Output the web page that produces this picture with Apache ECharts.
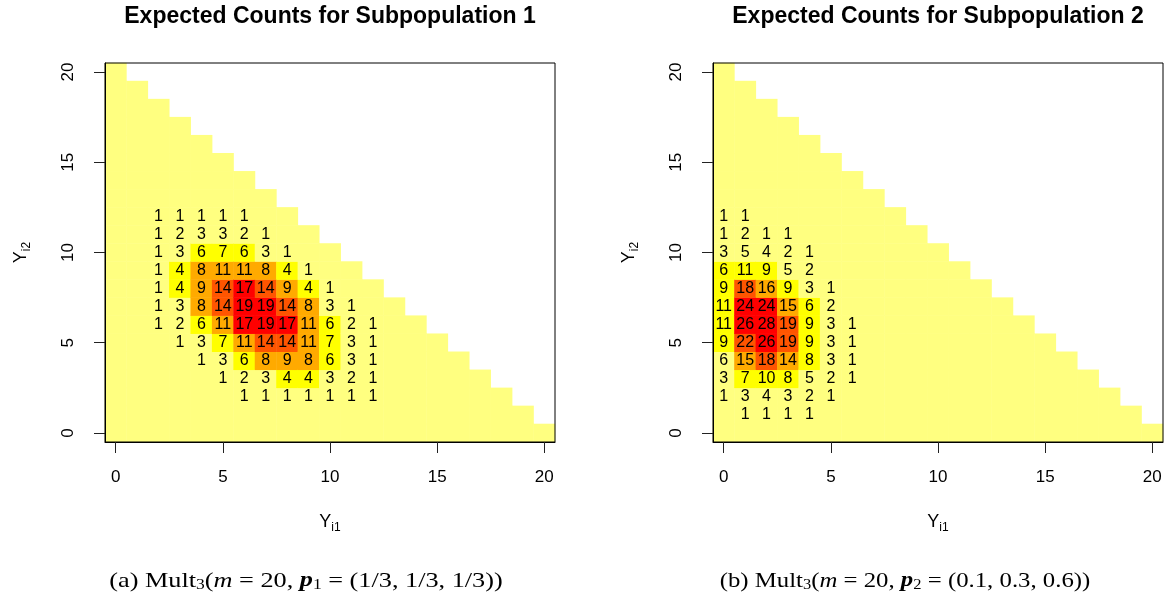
<!DOCTYPE html>
<html>
<head>
<meta charset="utf-8">
<script src="https://cdn.jsdelivr.net/npm/echarts@6/dist/echarts.min.js"></script>
<style>
  html, body { margin: 0; padding: 0; background: #fff; }
  #chart { width: 1170px; height: 602px; }
</style>
</head>
<body>
<div id="chart"></div>
<script>
// categories 0..20 for both axes
const cats = []
for (let i = 0; i <= 20; i++) cats.push(String(i))
const tickLabels = ["0", "5", "10", "15", "20"]

// each row: [Y_i2, first Y_i1, counts...]
const countsA = [
  [12, 2, [1, 1, 1, 1, 1]],
  [11, 2, [1, 2, 3, 3, 2, 1]],
  [10, 2, [1, 3, 6, 7, 6, 3, 1]],
  [9, 2, [1, 4, 8, 11, 11, 8, 4, 1]],
  [8, 2, [1, 4, 9, 14, 17, 14, 9, 4, 1]],
  [7, 2, [1, 3, 8, 14, 19, 19, 14, 8, 3, 1]],
  [6, 2, [1, 2, 6, 11, 17, 19, 17, 11, 6, 2, 1]],
  [5, 3, [1, 3, 7, 11, 14, 14, 11, 7, 3, 1]],
  [4, 4, [1, 3, 6, 8, 9, 8, 6, 3, 1]],
  [3, 5, [1, 2, 3, 4, 4, 3, 2, 1]],
  [2, 6, [1, 1, 1, 1, 1, 1, 1]]
]

const countsB = [
  [12, 0, [1, 1]],
  [11, 0, [1, 2, 1, 1]],
  [10, 0, [3, 5, 4, 2, 1]],
  [9, 0, [6, 11, 9, 5, 2]],
  [8, 0, [9, 18, 16, 9, 3, 1]],
  [7, 0, [11, 24, 24, 15, 6, 2]],
  [6, 0, [11, 26, 28, 19, 9, 3, 1]],
  [5, 0, [9, 22, 26, 19, 9, 3, 1]],
  [4, 0, [5.5, 15, 18, 14, 8, 3, 1]], // first cell shown as 6 but in the lightest band
  [3, 0, [3, 7, 10, 8, 5, 2, 1]],
  [2, 0, [1, 3, 4, 3, 2, 1]],
  [1, 1, [1, 1, 1, 1]]
]

const heat = ["#FFFF80", "#FFFF00", "#FFAA00", "#FF5500", "#FF0000"]
const breaksA = [3.5, 7.5, 11.5, 15.5]
const breaksB = [5.8, 11.5, 17, 23]

function buildCells(rows) {
  const map = {}
  rows.forEach(([y, x0, vals]) => {
    vals.forEach((v, k) => { map[(x0 + k) + "," + y] = v })
  })
  const out = []
  for (let x = 0; x <= 20; x++) {
    for (let y = 0; x + y <= 20; y++) {
      out.push([x, y, map[x + "," + y] || 0])
    }
  }
  return out
}

function pieces(breaks) {
  const p = [{ lt: breaks[0], color: heat[0] }]
  for (let i = 0; i < breaks.length; i++) {
    const piece = { gte: breaks[i], color: heat[i + 1] }
    if (i + 1 < breaks.length) piece.lt = breaks[i + 1]
    p.push(piece)
  }
  return p
}

const font = "Liberation Sans"
const serif = "Liberation Serif"

const nameRich = {
  b: { fontFamily: font, fontSize: 18, color: "#000", lineHeight: 20, verticalAlign: "top" },
  s: { fontFamily: font, fontSize: 12, color: "#000", lineHeight: 14, padding: [9, 0, 0, 0], verticalAlign: "top" }
}

function xAx(gi) {
  return {
    type: "category", gridIndex: gi, data: cats, z: 5,
    name: "{b|Y}{s|i1}", nameLocation: "middle", nameGap: 71,
    nameTextStyle: { rich: nameRich },
    axisLine: { show: true, lineStyle: { color: "#000", width: 1 } },
    axisTick: { show: true, alignWithLabel: true, length: 11, interval: i => i % 5 === 0, lineStyle: { color: "#222" } },
    axisLabel: {
      interval: i => i % 5 === 0, margin: 27, fontFamily: font, fontSize: 17, color: "#000",
      formatter: v => tickLabels.includes(v) ? v : ""
    },
    splitLine: { show: false }
  }
}

function yAx(gi) {
  return {
    type: "category", gridIndex: gi, data: cats, z: 5,
    name: "{b|Y}{s|i2}", nameLocation: "middle", nameGap: 73, nameRotate: 90,
    nameTextStyle: { rich: nameRich },
    axisLine: { show: true, lineStyle: { color: "#000", width: 1 } },
    axisTick: { show: true, alignWithLabel: true, length: 11, interval: i => i % 5 === 0, lineStyle: { color: "#222" } },
    axisLabel: {
      interval: i => i % 5 === 0, margin: 28, rotate: 90, fontFamily: font, fontSize: 17, color: "#000",
      formatter: v => tickLabels.includes(v) ? v : ""
    },
    splitLine: { show: false }
  }
}

function heatSeries(idx, rows) {
  return {
    type: "heatmap", xAxisIndex: idx, yAxisIndex: idx,
    data: buildCells(rows),
    label: {
      show: true, color: "#000", fontFamily: font, fontSize: 16,
      formatter: p => p.value[2] > 0 ? String(Math.round(p.value[2])) : ""
    },
    itemStyle: { borderWidth: 0 },
    emphasis: { disabled: true }
  }
}

function caption(x, sx, tag, sub, vals) {
  return {
    type: "text", x, y: 581, scaleX: sx,
    style: {
      text: "(" + tag + ") Mult{s|3}({i|m} = 20, {bi|p}{s|" + sub + "} = " + vals + ")",
      fontFamily: serif, fontSize: 21, fill: "#000", align: "center", verticalAlign: "middle",
      rich: {
        s: { fontFamily: serif, fontSize: 14, padding: [9, 0, 0, 0] },
        i: { fontFamily: serif, fontSize: 21, fontStyle: "italic" },
        bi: { fontFamily: serif, fontSize: 21, fontStyle: "italic", fontWeight: "bold" }
      }
    }
  }
}

function title(x, text) {
  return {
    type: "text", x, y: 17,
    style: { text, fontFamily: font, fontWeight: "bold", fontSize: 23, fill: "#000", align: "center", verticalAlign: "middle" }
  }
}

const chart = echarts.init(document.getElementById("chart"))
chart.setOption({
  backgroundColor: "#fff",
  animation: false,
  grid: [
    { left: 105, top: 63, width: 450, height: 379, show: true, borderColor: "#000", borderWidth: 1, z: 5 },
    { left: 713, top: 63, width: 450, height: 379, show: true, borderColor: "#000", borderWidth: 1, z: 5 }
  ],
  xAxis: [xAx(0), xAx(1)],
  yAxis: [yAx(0), yAx(1)],
  visualMap: [
    { type: "piecewise", show: false, dimension: 2, seriesIndex: 0, pieces: pieces(breaksA) },
    { type: "piecewise", show: false, dimension: 2, seriesIndex: 1, pieces: pieces(breaksB) }
  ],
  series: [heatSeries(0, countsA), heatSeries(1, countsB)],
  graphic: [
    title(330, "Expected Counts for Subpopulation 1"),
    title(938, "Expected Counts for Subpopulation 2"),
    caption(306, 1.25, "a", "1", "(1/3, 1/3, 1/3)"),
    caption(905, 1.18, "b", "2", "(0.1, 0.3, 0.6)")
  ]
})
</script>
</body>
</html>
